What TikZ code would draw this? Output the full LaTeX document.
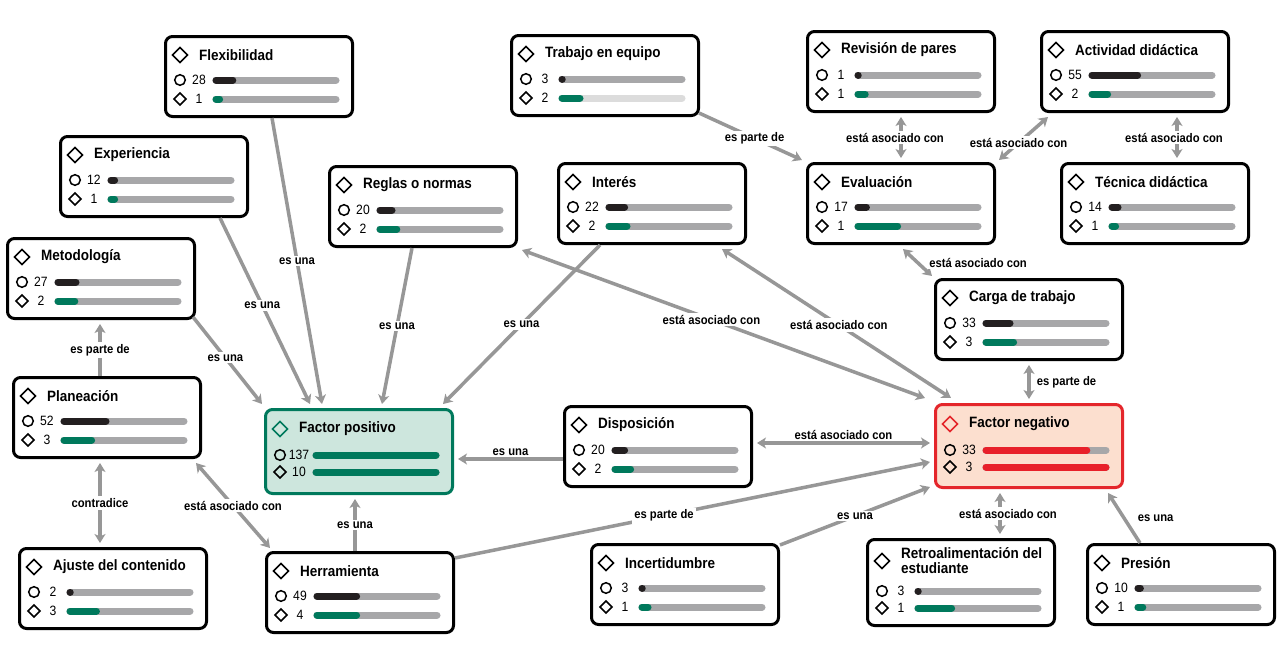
\documentclass[tikz,border=0pt]{standalone}
\usepackage{fontspec}
\setmainfont{Liberation Sans}[FakeStretch=0.9]
\usetikzlibrary{arrows.meta}

\definecolor{bardark}{HTML}{231F20}
\definecolor{bargray}{HTML}{A7A7A9}
\definecolor{barlight}{HTML}{DCDCDC}
\definecolor{bargreen}{HTML}{00795C}
\definecolor{posfill}{HTML}{CDE6DD}
\definecolor{posline}{HTML}{00795C}
\definecolor{negfill}{HTML}{FCDFCF}
\definecolor{negline}{HTML}{E4262B}
\definecolor{negred}{HTML}{E8202A}
\definecolor{relgray}{HTML}{979797}

% layout of one concept box (top left is the origin)
\newcommand{\cBoxH}{80}
\newcommand{\cTitleY}{20}
\newcommand{\cRowA}{45}
\newcommand{\cRowB}{64}

\tikzset{
  cbox/.style={draw=black, line width=3, rounded corners=7, fill=white,
    minimum width=187, minimum height=\cBoxH, inner sep=0},
  ticon/.style={draw=black, line width=1.6},
  sicon/.style={draw=black, line width=1.5},
  ttext/.style={font=\bfseries\fontsize{15}{15}\selectfont, anchor=west,
    inner sep=0, align=left},
  num/.style={font=\fontsize{13.5}{14}\selectfont, inner sep=0},
  barbg/.style={draw=bargray, line width=7, line cap=round},
  barbgb/.style={barbg},
  bara/.style={draw=bardark, line width=7, line cap=round},
  barb/.style={draw=bargreen, line width=7, line cap=round},
  positivo/.style={cbox/.append style={draw=posline, fill=posfill, minimum height=84},
    ticon/.append style={draw=posline}, bara/.append style={draw=bargreen}},
  negativo/.style={cbox/.append style={draw=negline, fill=negfill, minimum height=83},
    ticon/.append style={draw=negline}, bara/.append style={draw=negred},
    barb/.append style={draw=negred}},
  lightbg/.style={barbgb/.append style={draw=barlight}},
  link/.style={draw=relgray, line width=3.5,
    -{Stealth[length=9pt,width=11pt,inset=2.5pt]}},
  linkboth/.style={link, {Stealth[length=9pt,width=11pt,inset=2.5pt]}-{Stealth[length=9pt,width=11pt,inset=2.5pt]}},
  lbl/.style={fill=white, inner sep=2, font=\bfseries\fontsize{12.5}{13}\selectfont}
}

% #1 style, #2 name, #3 top left, #4 title, #5/#6 count and bar, #7/#8 count and bar
\newcommand{\conceptbox}[8][]{%
  \begin{scope}[#1]
    \node[cbox, anchor=north west] (#2) at (#3) {};
    \begin{scope}[shift={(#2.north west)}]
      \draw[ticon] (8.5,\cTitleY) -- ++(7.5,-7.5) -- ++(7.5,7.5) -- ++(-7.5,7.5) -- cycle;
      \node[ttext] (#2-t) at (35,\cTitleY) {#4};
      \draw[sicon] (16,\cRowA) circle (5.3pt);
      \draw[sicon] (10,\cRowB) -- ++(6,-6) -- ++(6,6) -- ++(-6,6) -- cycle;
      \node[num] (#2-n1) at (35,\cRowA) {#5};
      \node[num] (#2-n2) at (35,\cRowB) {#7};
      \draw[barbg] (52,\cRowA) -- (172,\cRowA);
      \draw[barbgb] (52,\cRowB) -- (172,\cRowB);
      \draw[bara] (52,\cRowA) -- ({52+max(#6,0.002)*120},\cRowA);
      \draw[barb] (52,\cRowB) -- ({52+max(#8,0.002)*120},\cRowB);
    \end{scope}
  \end{scope}}

\begin{document}
\begin{tikzpicture}[x=1pt, y=-1pt]
    % Canvas
    \fill[white] (0,0) rectangle (1283,645);
    \useasboundingbox (0,0) rectangle (1283,645);

    % Top row
    \conceptbox{flex}{164,35}{Flexibilidad}{28}{0.14}{1}{0.03}
    \conceptbox[lightbg]{trabajo}{510,34}{Trabajo en equipo}{3}{0}{2}{0.15}
    \conceptbox{revision}{806,30}{Revisión de pares}{1}{0}{1}{0.06}
    \conceptbox{actividad}{1040,30}{Actividad didáctica}{55}{0.38}{2}{0.13}

    % Second row
    \conceptbox{experiencia}{59,135}{Experiencia}{12}{0.03}{1}{0.03}
    \conceptbox{reglas}{328,165}{Reglas o normas}{20}{0.1}{2}{0.14}
    \conceptbox{interes}{557,162}{Interés}{22}{0.13}{2}{0.15}
    \conceptbox{evaluacion}{806,162}{Evaluación}{17}{0.07}{1}{0.33}
    \conceptbox{tecnica}{1060,162}{Técnica didáctica}{14}{0.05}{1}{0.03}

    % Middle
    \conceptbox{metodologia}{6,237}{Metodología}{27}{0.15}{2}{0.14}
    \conceptbox{carga}{934,278}{Carga de trabajo}{33}{0.2}{3}{0.23}
    \conceptbox{planeacion}{12,376}{Planeación}{52}{0.35}{3}{0.23}
    {\renewcommand{\cTitleY}{21}\renewcommand{\cRowA}{47}
     \conceptbox[positivo]{positivo}{264,408}{Factor positivo}{137}{1}{10}{1}
     \conceptbox[negativo]{negativo}{934,403}{Factor negativo}{33}{0.84}{3}{1}}
    \conceptbox{disposicion}{563,405}{Disposición}{20}{0.08}{2}{0.13}

    % Bottom row
    \conceptbox{ajuste}{18,547}{Ajuste del contenido}{2}{0}{3}{0.22}
    \conceptbox{herramienta}{265,551}{Herramienta}{49}{0.33}{4}{0.33}
    \conceptbox{incertidumbre}{590,543}{Incertidumbre}{3}{0}{1}{0.05}
    {\renewcommand{\cBoxH}{86}\renewcommand{\cTitleY}{23}
     \renewcommand{\cRowA}{53}\renewcommand{\cRowB}{70}
     \conceptbox{retro}{866,538}{Retroalimentación del\\estudiante}{3}{0}{1}{0.28}}
    \conceptbox{presion}{1086,543}{Presión}{10}{0.02}{1}{0.04}

    % Links into Factor positivo
    \draw[link] ([xshift=108]flex.south west) -- node[lbl] (l1) {es una} ([xshift=58,yshift=4]positivo.north west);
    \draw[link] ([xshift=161]experiencia.south west) -- node[lbl,pos=.47] (l2) {es una} ([xshift=46,yshift=4]positivo.north west);
    \draw[link] ([xshift=-3,yshift=3]metodologia.south east) -- node[lbl,pos=.47] (l3) {es una} ([xshift=-2,yshift=4]positivo.north west);
    \draw[link] ([xshift=84]reglas.south west) -- node[lbl] (l4) {es una} ([xshift=118,yshift=4]positivo.north west);
    \draw[link] ([xshift=43]interes.south west) -- node[lbl] (l5) {es una} ([xshift=179,yshift=4]positivo.north west);
    \draw[link] ([yshift=-54]disposicion.north west) -- node[lbl,above] (l6) {es una} ([xshift=4,yshift=-51]positivo.north east);
    \draw[link] ([xshift=90]herramienta.north west) -- node[lbl] (l7) {es una} ([xshift=91,yshift=-4]positivo.south west);

    % Links round Planeacion
    \draw[link] ([xshift=88]planeacion.north west) -- node[lbl] (l8) {es parte de} ([xshift=94,yshift=-4]metodologia.south west);
    \draw[linkboth] ([xshift=88,yshift=-4]planeacion.south west) -- node[lbl] (l9) {contradice} ([xshift=82,yshift=4]ajuste.north west);
    \draw[linkboth] ([xshift=-6,yshift=-4]planeacion.south east) -- node[lbl] (l10) {está asociado con} ([xshift=5,yshift=3]herramienta.north west);
    \draw[link] ([yshift=-7]herramienta.north east) -- node[lbl,pos=.44] (l11) {es parte de} ([xshift=-4,yshift=-59]negativo.north west);

    % Links round Evaluacion
    \draw[link] ([xshift=-1,yshift=4]trabajo.south east) -- node[lbl,pos=.54] (l12) {es parte de} ([xshift=-4,yshift=2]evaluacion.north west);
    \draw[linkboth] ([xshift=95,yshift=4]evaluacion.north west) -- node[lbl,xshift=-6] (l13) {está asociado con} ([xshift=95,yshift=-4]revision.south west);
    \draw[linkboth] ([xshift=3,yshift=2]evaluacion.north east) -- node[lbl,pos=.4] (l14) {está asociado con} ([xshift=8,yshift=-4]actividad.south west);
    \draw[linkboth] ([xshift=137,yshift=-4]actividad.south west) -- node[lbl,xshift=-3] (l15) {está asociado con} ([xshift=117,yshift=4]tecnica.north west);
    \draw[linkboth] ([xshift=97,yshift=-4]evaluacion.south west) -- node[lbl,anchor=west,xshift=8] (l16) {está asociado con} ([xshift=-2,yshift=2]carga.north west);
    \draw[linkboth] ([xshift=95,yshift=-4]carga.south west) -- node[lbl,anchor=west,xshift=4] (l17) {es parte de} ([xshift=95,yshift=4]negativo.north west);

    % Links into Factor negativo
    \draw[linkboth] ([xshift=165,yshift=-4]interes.south west) -- node[lbl,pos=.51] (l18) {está asociado con} ([xshift=17,yshift=5]negativo.north west);
    \draw[linkboth] ([xshift=4,yshift=-2]reglas.south east) -- node[lbl,pos=.47] (l19) {está asociado con} ([xshift=-9,yshift=5]negativo.north west);
    \draw[linkboth] ([xshift=4,yshift=-38]disposicion.north east) -- node[lbl,above] (l20) {está asociado con} ([xshift=-4,yshift=-40]negativo.north west);
    \draw[link] ([yshift=-2]incertidumbre.north east) -- node[lbl] (l21) {es una} ([xshift=-4,yshift=2]negativo.south west);
    \draw[linkboth] ([xshift=134,yshift=4]retro.north west) -- node[lbl,xshift=8] (l22) {está asociado con} ([xshift=66,yshift=-4]negativo.south west);
    \draw[link] ([xshift=54]presion.north west) -- node[lbl,anchor=west,xshift=10] (l23) {es una} ([xshift=174,yshift=-4]negativo.south west);
\end{tikzpicture}
\end{document}
